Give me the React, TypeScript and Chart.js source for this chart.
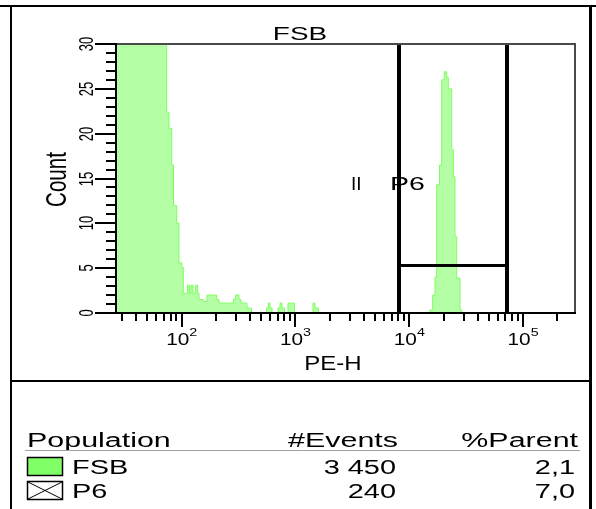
import React, { useEffect, useRef } from 'react';
import { Chart, registerables } from 'chart.js';

Chart.register(...registerables);

// PE-H axis range (log) and count axis range
const X_MIN = 26.47;
const X_MAX = 285800;
const Y_MAX = 30;

// Histogram bins: PE-H value where each step starts, and its count
const peBinStarts = [
  26.47, 73.8, 77.3, 81.7, 84.7, 90.4, 94.7, 100, 103.3, 112.4,
  117.1, 120.7, 125.7, 132.8, 138.2, 141.9, 154.8, 166.9, 203.0, 212.7,
  284.1, 297.0, 318.8, 331.9, 374.8, 410.5, 558, 577, 597, 621.5,
  702, 731, 761, 800.6, 859.5, 980, 1425, 1484, 1586, 15200,
  16055, 16820, 17410, 18430, 19260, 20300, 21310, 22010, 23590, 24360,
  25210, 26090, 27890, 28870,
];
const binCounts = [
  30, 22.4, 20.6, 16.5, 12.0, 10.0, 5.6, 5.1, 2.2, 3.1,
  2.2, 3.1, 2.2, 3.1, 2.2, 1.5, 1.3, 2.0, 1.5, 1.1,
  1.5, 2.0, 1.5, 1.1, 0.55, 0, 0.55, 1.1, 0.55, 0,
  0.55, 1.1, 0.55, 0, 1.1, 0, 1.1, 0.55, 0, 0.33,
  2.0, 4.0, 14.3, 16.5, 26.0, 26.9, 26.3, 25.0, 18.2, 15.2,
  8.5, 3.9, 0.33, 0,
];

const yTickStep = 1;
const yLabelStep = 5;
const xDecades = [1, 2, 3, 4, 5];
const xLabelDecades = [2, 3, 4, 5];

// Interval gate P6
const gateName = 'P6';
const gateBounds = [8168, 72630];
const gateLevel = 5.35;

// Statistics table
const tableHeaders = ['Population', '#Events', '%Parent'];
const populations = ['FSB', 'P6'];
const eventCounts = ['3 450', '240'];
const parentPercents = ['2,1', '7,0'];

const plotTitle = 'FSB';
const xTitle = 'PE-H';
const yTitle = 'Count';

const FONT = '"Liberation Sans", Arial, sans-serif';
const FILL = '#b4ffa6';
const EDGE = '#7dff5c';
const SWATCH = '#80ff66';

function drawText(
  ctx: CanvasRenderingContext2D,
  text: string,
  x: number,
  y: number,
  size: number,
  sx: number,
  sy: number,
  align: CanvasTextAlign,
  rot = 0,
) {
  ctx.save();
  ctx.font = `${size}px ${FONT}`;
  ctx.fillStyle = '#000';
  ctx.textAlign = align;
  ctx.textBaseline = 'alphabetic';
  ctx.translate(x, y);
  ctx.rotate(rot);
  ctx.scale(sx, sy);
  ctx.fillText(text, 0, 0);
  ctx.restore();
}

function textWidth(ctx: CanvasRenderingContext2D, text: string, size: number) {
  ctx.save();
  ctx.font = `${size}px ${FONT}`;
  const w = ctx.measureText(text).width;
  ctx.restore();
  return w;
}

function seg(ctx: CanvasRenderingContext2D, x1: number, y1: number, x2: number, y2: number) {
  ctx.beginPath();
  ctx.moveTo(x1, y1);
  ctx.lineTo(x2, y2);
  ctx.stroke();
}

const panelPlugin = {
  id: 'facsPanel',
  beforeDraw(chart: any) {
    const ctx = chart.ctx as CanvasRenderingContext2D;
    ctx.save();
    ctx.fillStyle = '#fff';
    ctx.fillRect(0, 0, chart.width, chart.height);
    ctx.restore();
  },
  afterDatasetsDraw(chart: any) {
    const ctx = chart.ctx as CanvasRenderingContext2D;
    const a = chart.chartArea;
    const xs = chart.scales.x;
    const ys = chart.scales.y;
    ctx.save();
    ctx.lineCap = 'butt';

    // gate
    const gl = Math.round(xs.getPixelForValue(gateBounds[0]));
    const gr = Math.round(xs.getPixelForValue(gateBounds[1]));
    const gy = Math.round(ys.getPixelForValue(gateLevel)) + 0.5;
    ctx.strokeStyle = '#000';
    ctx.lineWidth = 4;
    seg(ctx, gl, a.top, gl, a.bottom);
    seg(ctx, gr, a.top, gr, a.bottom);
    ctx.lineWidth = 3;
    seg(ctx, gl, gy, gr, gy);
    drawText(ctx, 'II', gl - 48, 190, 19, 1.0, 1, 'left');
    drawText(ctx, gateName, gl - 9, 190, 19, 1.5, 1, 'left');

    // plot frame
    const L = Math.round(a.left), R = Math.round(a.right);
    const T = Math.round(a.top), B = Math.round(a.bottom);
    ctx.strokeStyle = '#4a4a4a';
    ctx.lineWidth = 2;
    seg(ctx, L, T, R + 1, T);
    seg(ctx, R, T, R, B);
    ctx.strokeStyle = '#000';
    seg(ctx, L, T - 1, L, B + 1);
    seg(ctx, L - 1, B, R + 1, B);

    // y ticks and labels
    for (let v = 0; v <= Y_MAX; v += yTickStep) {
      const py = Math.round(ys.getPixelForValue(v));
      const major = v % yLabelStep === 0;
      seg(ctx, L - (major ? 21 : 10), py, L, py);
      if (major) drawText(ctx, String(v), 93, py, 13, 1, 1.5, 'center', -Math.PI / 2);
    }

    // x ticks
    for (const d of xDecades) {
      for (let m = 1; m <= 9; m++) {
        const v = m * Math.pow(10, d);
        if (v < X_MIN || v > X_MAX) continue;
        const px = Math.round(xs.getPixelForValue(v));
        seg(ctx, px, B, px, B + (m === 1 ? 14 : 8));
      }
    }
    for (const d of xLabelDecades) {
      const px = xs.getPixelForValue(Math.pow(10, d));
      const wb = textWidth(ctx, '10', 16) * 1.3;
      const we = textWidth(ctx, String(d), 11) * 1.3;
      const start = px - (wb + we) / 2;
      drawText(ctx, '10', start, 345, 16, 1.3, 1, 'left');
      drawText(ctx, String(d), start + wb, 336, 11, 1.3, 1, 'left');
    }

    // titles
    drawText(ctx, plotTitle, 300, 40, 19, 1.47, 1, 'center');
    drawText(ctx, xTitle, 333, 370, 20, 1.2, 1, 'center');
    drawText(ctx, yTitle, 66, 179.5, 20.6, 1, 1.42, 'center', -Math.PI / 2);

    // panel borders
    ctx.fillStyle = '#000';
    ctx.fillRect(0, 5, 596, 2);
    ctx.fillRect(10, 6, 2, 503);
    ctx.fillRect(589, 6, 3, 503);
    ctx.fillRect(10, 380, 581, 2);

    // statistics table
    const TS = 19.5, TSX = 1.56;
    drawText(ctx, tableHeaders[0], 27, 447, TS, TSX, 1, 'left');
    drawText(ctx, tableHeaders[1], 398, 447, TS, TSX, 1, 'right');
    drawText(ctx, tableHeaders[2], 578, 447, TS, TSX, 1, 'right');
    ctx.strokeStyle = '#a0a0a0';
    ctx.lineWidth = 1;
    seg(ctx, 25, 450.5, 580, 450.5);

    const rowBase = [474, 498];
    for (let i = 0; i < populations.length; i++) {
      const by = rowBase[i];
      const top = by - 17;
      if (i === 0) {
        ctx.fillStyle = SWATCH;
        ctx.fillRect(27, top, 36, 19);
      }
      ctx.strokeStyle = '#000';
      ctx.lineWidth = 1.5;
      ctx.strokeRect(27.5, top + 0.5, 35, 18);
      if (i === 1) {
        ctx.lineWidth = 1;
        seg(ctx, 28, top + 1, 62, top + 18);
        seg(ctx, 62, top + 1, 28, top + 18);
      }
      drawText(ctx, populations[i], 72, by, TS, TSX * 0.95, 1, 'left');
      drawText(ctx, eventCounts[i], 396, by, TS, TSX * 0.95, 1, 'right');
      drawText(ctx, parentPercents[i], 575, by, TS, TSX * 0.95, 1, 'right');
    }
    ctx.restore();
  },
};

export default function App() {
  const canvasRef = useRef<HTMLCanvasElement | null>(null);

  useEffect(() => {
    const canvas = canvasRef.current;
    if (!canvas) return;
    const points = peBinStarts.map((x, i) => ({ x, y: binCounts[i] }));
    points.push({ x: X_MAX, y: 0 });
    const chart = new Chart(canvas, {
      type: 'line',
      data: {
        datasets: [
          {
            label: plotTitle,
            data: points,
            stepped: 'before',
            fill: 'origin',
            backgroundColor: FILL,
            borderColor: EDGE,
            borderWidth: 1,
            pointRadius: 0,
            tension: 0,
          },
        ],
      },
      options: {
        animation: false,
        responsive: false,
        events: [],
        layout: { padding: { left: 116, top: 44, right: 21, bottom: 196 } },
        scales: {
          x: { type: 'logarithmic', min: X_MIN, max: X_MAX, display: false },
          y: { type: 'linear', min: 0, max: Y_MAX, display: false },
        },
        plugins: {
          legend: { display: false },
          tooltip: { enabled: false },
          title: { display: false },
        },
      },
      plugins: [panelPlugin],
    });
    return () => chart.destroy();
  }, []);

  return (
    <div style={{ position: 'absolute', left: 0, top: 0, width: 596, height: 509 }}>
      <canvas ref={canvasRef} width={596} height={509} style={{ display: 'block' }} />
    </div>
  );
}
